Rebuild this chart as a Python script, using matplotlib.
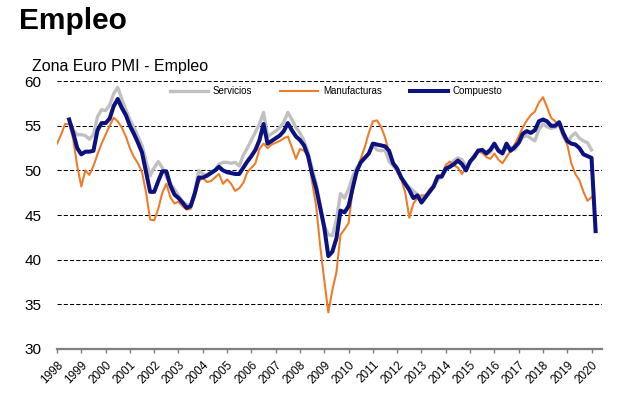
"""
Zona Euro PMI - Empleo
"""
import numpy as np
import matplotlib
matplotlib.use("Agg")
import matplotlib.pyplot as plt

plt.rcParams['font.family'] = ['Liberation Sans', 'DejaVu Sans']

# datos bimestrales (ene, mar, may, jul, sep, nov)
INICIO_MANUF = 1998.0
INICIO_SERV = 1998.5

manufacturas = [
    53.0, 54.0, 55.2, 55.2, 53.5, 50.5,
    48.2, 50.0, 49.5, 50.5, 51.8, 53.0,
    54.0, 55.0, 55.9, 55.5, 54.8, 53.8,
    52.5, 51.5, 50.8, 49.8, 47.5, 44.5,
    44.4, 45.7, 47.5, 48.5, 47.0, 46.3,
    46.5, 46.0, 45.6, 45.7, 47.0, 48.7,
    49.2, 48.7, 48.8, 49.2, 49.6, 48.5,
    49.0, 48.5, 47.7, 48.0, 48.6, 49.8,
    50.3, 50.8, 52.4, 53.0, 52.5, 52.9,
    53.1, 53.3, 53.6, 53.8, 52.6, 51.3,
    52.4, 52.2, 51.8, 48.7, 46.0, 41.5,
    37.7, 34.1, 36.6, 38.6, 42.8, 43.4,
    44.1, 47.8, 49.9, 51.3, 52.6, 54.2,
    55.5, 55.6, 54.9, 53.7, 52.0, 50.8,
    49.8, 49.0, 47.5, 44.7, 46.3, 46.9,
    47.2, 47.2, 47.9, 48.3, 49.4, 49.5,
    50.6, 51.0, 50.6, 50.3, 49.6, 50.3,
    51.1, 51.8, 52.1, 52.0, 51.5, 51.3,
    51.9, 51.2, 50.8, 51.5, 52.2, 52.9,
    53.8, 54.8, 55.6, 56.2, 56.6, 57.6,
    58.2, 57.1, 55.9, 55.5, 55.0, 53.9,
    52.9, 50.8, 49.6, 48.9, 47.6, 46.6,
    47.0,
]

servicios = [
    55.6, 54.5, 54.0,
    54.0, 53.9, 53.5, 54.0, 56.0, 56.8,
    56.7, 57.3, 58.6, 59.3, 58.0, 56.8,
    55.7, 54.8, 53.8, 52.8, 51.0, 49.4,
    50.3, 51.0, 50.3, 49.3, 48.5, 47.9,
    47.2, 46.5, 46.2, 46.0, 47.5, 50.0,
    49.6, 49.5, 49.8, 50.0, 50.7, 50.9,
    50.9, 50.8, 50.9, 50.5, 51.7, 52.5,
    53.4, 54.3, 55.2, 56.5, 53.8, 54.1,
    54.4, 54.8, 55.4, 56.5, 55.7, 54.8,
    54.2, 53.3, 52.0, 50.2, 48.5, 46.1,
    43.8, 42.8, 42.7, 44.5, 47.4, 46.9,
    47.9, 49.3, 50.3, 50.9, 51.3, 51.9,
    52.8, 52.3, 52.2, 52.3, 51.0, 50.5,
    50.0, 49.2, 48.6, 48.1, 47.7, 47.3,
    46.9, 47.2, 47.6, 48.2, 48.9, 49.4,
    50.0, 50.6, 51.1, 51.4, 51.2, 50.5,
    50.8, 51.6, 52.3, 52.0, 51.8, 52.0,
    52.8, 52.4, 51.9, 52.5, 52.6, 52.3,
    53.0, 53.7, 53.9, 53.6, 53.3, 54.6,
    55.2, 54.9, 54.7, 54.8, 55.2, 53.8,
    53.1, 53.8, 54.2, 53.6, 53.3, 53.1,
    52.3,
]

compuesto = [
    55.7, 54.2, 52.5,
    51.8, 52.1, 52.1, 52.2, 54.5, 55.3,
    55.3, 55.8, 57.2, 58.0, 57.0, 56.2,
    55.0, 54.1, 53.1, 52.0, 49.8, 47.6,
    47.6, 48.8, 49.9, 49.9, 48.3, 47.3,
    46.9, 46.4, 45.8, 46.0, 47.4, 49.2,
    49.2, 49.4, 49.7, 50.0, 50.4, 50.0,
    49.8, 49.7, 49.6, 49.6, 50.3, 51.0,
    51.6, 52.3, 53.4, 55.2, 53.0, 53.3,
    53.6, 53.9, 54.4, 55.3, 54.5, 53.8,
    53.4, 52.8, 51.6, 49.6, 48.0, 45.8,
    43.6, 40.4, 40.9, 42.4, 45.5, 45.3,
    46.0, 48.0, 49.9, 50.9, 51.4, 51.9,
    53.0, 52.9, 52.8, 52.7, 52.2, 50.8,
    50.2, 49.2, 48.5, 47.8, 46.9, 47.2,
    46.4, 47.0, 47.6, 48.2, 49.3, 49.3,
    50.2, 50.4, 50.7, 51.1, 50.7, 50.0,
    51.0, 51.5, 52.2, 52.3, 51.9, 52.3,
    53.0, 52.2, 51.9, 53.0, 52.2, 52.6,
    53.1, 54.1, 54.4, 54.2, 54.5, 55.5,
    55.7, 55.5, 55.0, 55.0, 55.4, 54.2,
    53.3, 53.0, 52.9, 52.5, 51.8, 51.6,
    51.4, 43.2,
]

anios = list(range(1998, 2021))

GRIS = '#c0c0c0'
NARANJA = '#ee7d2b'
AZUL = '#0b1280'


def fechas(inicio, serie):
    return inicio + np.arange(len(serie)) / 6.


def main():
    fig = plt.figure(figsize=(6.25, 4.01), dpi=100)
    ax = fig.add_axes([0.0912, 0.1297, 0.872, 0.668])

    ax.plot(fechas(INICIO_SERV, servicios), servicios, color=GRIS,
            lw=2.4, label='Servicios', zorder=3)
    ax.plot(fechas(INICIO_MANUF, manufacturas), manufacturas, color=NARANJA,
            lw=1.5, label='Manufacturas', zorder=4)
    ax.plot(fechas(INICIO_SERV, compuesto), compuesto, color=AZUL,
            lw=2.9, label='Compuesto', zorder=5)

    ax.set_xlim(1998, 2020.43)
    ax.set_ylim(30, 60)
    ax.set_yticks(range(30, 61, 5))
    ax.set_xticks(anios)
    ax.set_xticklabels([str(a) for a in anios], rotation=45, ha='right',
                       rotation_mode='anchor', fontsize=8.5)

    ax.yaxis.grid(True, color='black', lw=0.75, linestyle=(0, (4, 2)))
    ax.set_axisbelow(True)

    for lado in ('top', 'right', 'left'):
        ax.spines[lado].set_visible(False)
    ax.spines['bottom'].set_color('#7f7f7f')
    ax.spines['bottom'].set_linewidth(1.6)
    ax.tick_params(axis='y', length=0, pad=11, labelsize=11)
    ax.tick_params(axis='x', length=3, width=1, color='#7f7f7f', pad=4)

    fig.legend(loc='center', bbox_to_anchor=(0.538, 0.773), ncol=3,
               frameon=False, fontsize=7, handlelength=3.9,
               handletextpad=0.5, columnspacing=2.9)

    fig.text(0.031, 0.928, 'Empleo', fontsize=21.5, fontweight='bold',
             va='baseline')
    fig.text(0.051, 0.822, 'Zona Euro PMI - Empleo', fontsize=11.5,
             va='baseline')

    fig.savefig('out.png', dpi=100)


if __name__ == '__main__':
    main()
